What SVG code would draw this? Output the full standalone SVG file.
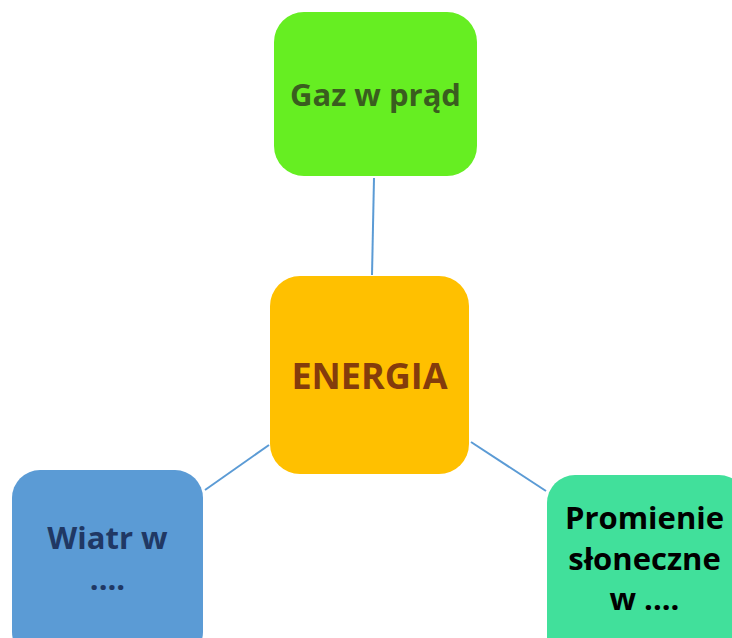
<svg xmlns="http://www.w3.org/2000/svg" width="732" height="638" viewBox="0 0 732 638">
<style>
.t{font-family:"Open Sans","Noto Sans","Liberation Sans",sans-serif;font-weight:bold;text-anchor:middle}
.c{stroke:#5B9BD5;stroke-width:2;fill:none}
</style>
<rect width="732" height="638" fill="#FFFFFF"/>
<g id="connectors">
<line class="c" x1="374" y1="178" x2="372" y2="275"/>
<line class="c" x1="205" y1="490" x2="269" y2="445"/>
<line class="c" x1="471" y1="442" x2="546" y2="491"/>
</g>
<g id="gaz">
<rect x="274" y="12" width="203" height="164" rx="30" fill="#66EE22"/>
<text class="t" x="375.5" y="106" font-size="31" fill="#3A5D1F">Gaz w prąd</text>
</g>
<g id="energia">
<rect x="270" y="276" width="199" height="198" rx="30" fill="#FFC000"/>
<text class="t" x="369.5" y="389" font-size="36" fill="#843C0C">ENERGIA</text>
</g>
<g id="wiatr">
<rect x="12" y="470" width="191" height="190" rx="28" fill="#5B9BD5"/>
<text class="t" x="107.5" y="549" font-size="31" fill="#203864">Wiatr w</text>
<text class="t" x="107.5" y="590" font-size="31" fill="#203864">....</text>
</g>
<g id="promienie">
<rect x="547" y="475" width="200" height="190" rx="28" fill="#41E09B"/>
<text class="t" x="644.5" y="529" font-size="31" fill="#000000">Promienie</text>
<text class="t" x="644.5" y="570" font-size="31" fill="#000000">słoneczne</text>
<text class="t" x="644.5" y="610" font-size="31" fill="#000000">w ....</text>
</g>
</svg>
